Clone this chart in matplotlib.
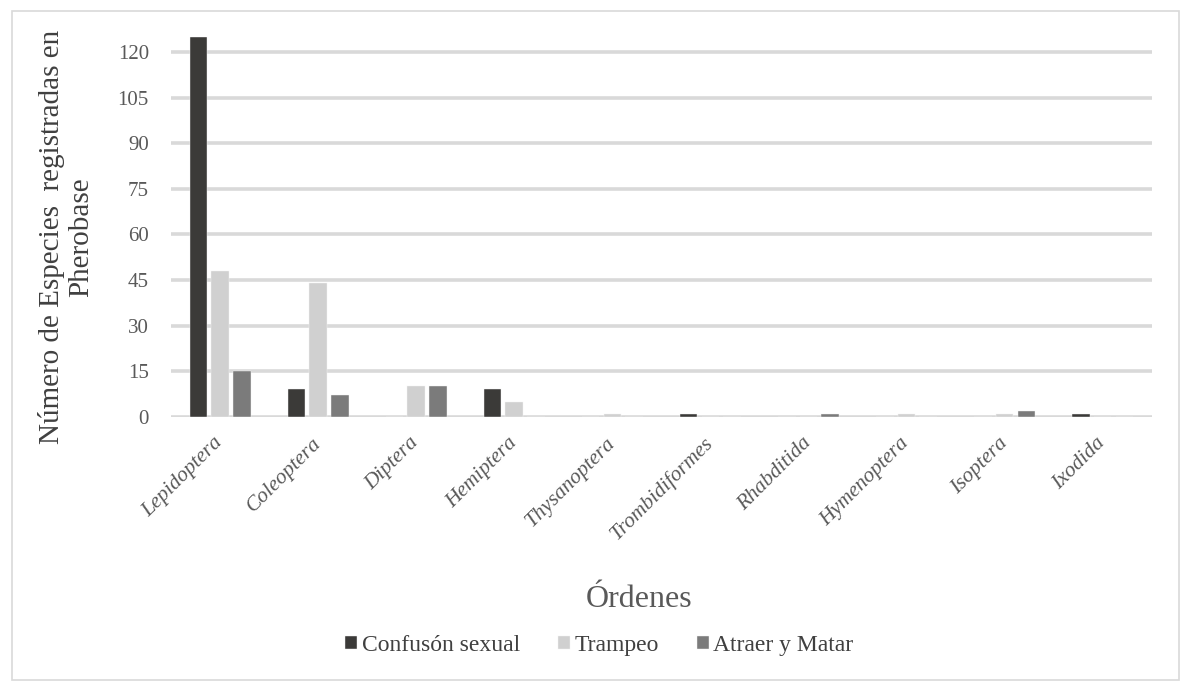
import numpy as np
import matplotlib
matplotlib.use('Agg')
import matplotlib.pyplot as plt
from matplotlib.patches import Rectangle

ordenes = ['Lepidoptera', 'Coleoptera', 'Diptera', 'Hemiptera', 'Thysanoptera',
           'Trombidiformes', 'Rhabditida', 'Hymenoptera', 'Isoptera', 'Ixodida']
confusion = [125, 9, 0, 9, 0, 1, 0, 0, 0, 1]
trampeo = [48, 44, 10, 5, 1, 0, 0, 1, 1, 0]
atraer = [15, 7, 10, 0, 0, 0, 1, 0, 2, 0]

series = [('Confusón sexual', confusion, '#3b3a38'),
          ('Trampeo', trampeo, '#d0d0d0'),
          ('Atraer y Matar', atraer, '#7b7b7b')]
yticks = np.arange(0, 121, 15)

plt.rcParams['font.family'] = ['Liberation Serif', 'DejaVu Serif']

fig = plt.figure(figsize=(11.8, 6.81), dpi=100)
ax = fig.add_axes([0.145, 0.388, 0.831, 0.558])

x = np.arange(len(ordenes))
width = 0.18
step = 0.222
for i, (name, vals, color) in enumerate(series):
    ax.bar(x + (i - 1) * step, vals, width, color=color, label=name,
           edgecolor='#f4f4f4', linewidth=0.3, zorder=3)

ax.set_xlim(-0.5, len(ordenes) - 0.5)
ax.set_ylim(0, 125)
ax.set_yticks(yticks)
ax.set_yticklabels([str(v) for v in yticks], fontsize=15, color='#595959')
ax.yaxis.grid(True, color='#d9d9d9', linewidth=2.6, zorder=0)
ax.set_axisbelow(True)
ax.tick_params(axis='y', length=0, pad=16)
ax.tick_params(axis='x', length=0, pad=17)
for s in ax.spines.values():
    s.set_visible(False)

ax.set_xticks(x)
ax.set_xticklabels(ordenes, rotation=45, ha='right', va='center',
                   rotation_mode='anchor', fontsize=15.5, style='italic',
                   color='#595959')

fig.text(0.056, 0.652, 'Número de Especies  registradas en\nPherobase',
         rotation=90, ha='center', va='center', multialignment='center',
         fontsize=21, color='#404040', linespacing=1.15)
fig.text(0.542, 0.12, 'Órdenes', ha='center', va='center', fontsize=23,
         color='#595959')

leg = ax.legend(loc='center', bbox_to_anchor=(0.508, 0.052), bbox_transform=fig.transFigure,
                ncol=3, frameon=False, fontsize=17, handlelength=0.5,
                handleheight=0.5, handletextpad=0.2, columnspacing=1.6)
for t in leg.get_texts():
    t.set_color('#404040')

# light frame around the chart area
fig.patches.append(Rectangle((12 / 1180, 1 - 680 / 681), 1167 / 1180, 669 / 681,
                             transform=fig.transFigure, fill=False,
                             edgecolor='#d9d9d9', linewidth=1.2))

fig.savefig('out.png', dpi=100, facecolor='white')
